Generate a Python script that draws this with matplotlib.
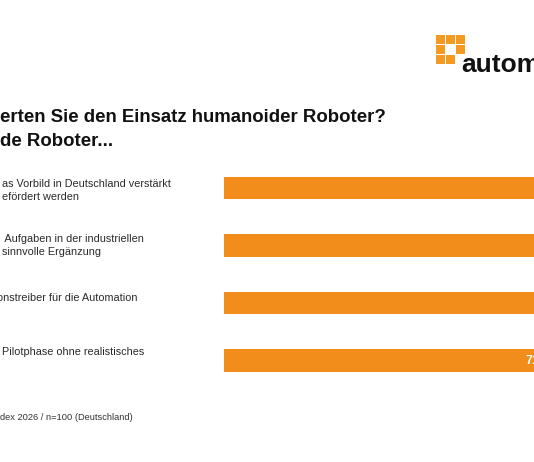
import matplotlib.pyplot as plt
from matplotlib.patches import Rectangle

# ausschnitt einer umfrage-grafik (links und rechts abgeschnitten)
title_lines = ["erten Sie den Einsatz humanoider Roboter?", "de Roboter..."]
label_lines = [
    ["as Vorbild in Deutschland verstärkt", "efördert werden"],
    [" Aufgaben in der industriellen", "sinnvolle Ergänzung"],
    ["onstreiber für die Automation"],
    ["Pilotphase ohne realistisches"],
]
values = [83, 78, 76, 71]
value_labels = ["83%", "78%", "76%", "71%"]
source = "dex 2026 / n=100 (Deutschland)"

orange = "#F28C1A"
W, H = 534, 462

plt.rcParams["font.family"] = ["Liberation Sans", "DejaVu Sans"]
fig = plt.figure(figsize=(W / 100, H / 100), dpi=100)

def fx(px):
    return px / W

def fy(py):
    return 1 - py / H

# achse: balken beginnen bei x=224px, laufen rechts aus dem bild
ax = fig.add_axes([fx(224), fy(389.25), 0.878, 230 / H])
y = list(range(len(values)))
ax.barh(y, values, height=0.39, color=orange)
for i, v in enumerate(values):
    ax.text(v - 1.3, i, value_labels[i], ha="right", va="center",
            color="white", fontsize=9, fontweight="bold")
ax.set_xlim(0, 100)
ax.set_ylim(3.5, -0.5)
ax.axis("off")

# titel
fig.text(fx(0), fy(117), title_lines[0], fontsize=13.4, fontweight="bold",
         ha="left", va="center", color="#111111")
fig.text(fx(0), fy(141), title_lines[1], fontsize=13.4, fontweight="bold",
         ha="left", va="center", color="#111111")

# beschriftungen links
line_y = [[184, 197], [239, 252], [298], [352]]
line_x = [[2, 2], [2, 2], [-3], [2]]
for lines, ys, xs in zip(label_lines, line_y, line_x):
    for txt, py, px in zip(lines, ys, xs):
        fig.text(fx(px), fy(py), txt, fontsize=7.8, ha="left", va="center",
                 color="#2a2a2a")

fig.text(fx(0), fy(417), source, fontsize=6.7, ha="left", va="center",
         color="#333333")

# logo
cell = 8.7
gap = 1.2
for r in range(3):
    for c in range(3):
        if (r, c) in [(1, 1), (2, 2)]:
            continue
        x0 = 436 + c * (cell + gap)
        y0 = 35 + r * (cell + gap)
        fig.patches.append(Rectangle((fx(x0), fy(y0 + cell)), cell / W, cell / H,
                                     transform=fig.transFigure, color="#F39A20",
                                     linewidth=0))
fig.text(fx(461), fy(72), "automationspraxis", fontsize=19, fontweight="bold",
         ha="left", va="baseline", color="#111111")

fig.savefig("out.png", dpi=100)
